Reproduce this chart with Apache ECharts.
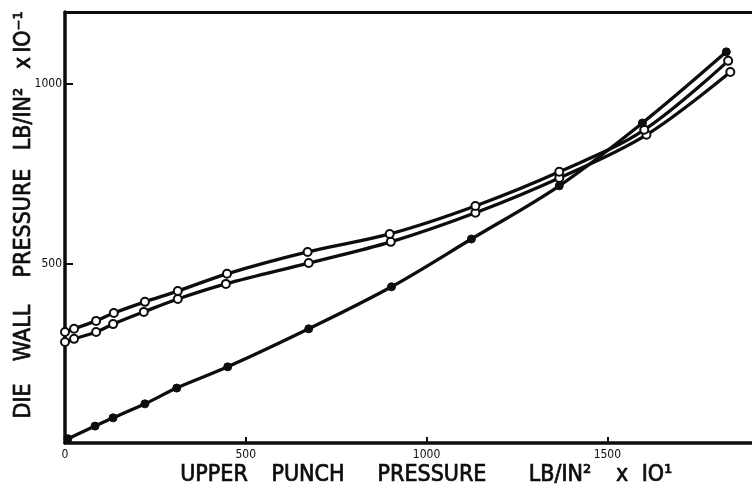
<!DOCTYPE html>
<html><head><meta charset="utf-8">
<script src="https://cdn.jsdelivr.net/npm/echarts@6/dist/echarts.min.js"></script>
<style>html,body{margin:0;padding:0;background:#fff}#c{width:752px;height:490px}</style>
</head><body><div id="c"></div>
<script>
const FONT = "'Liberation Sans Narrow','DejaVu Sans Condensed','Liberation Sans',sans-serif";
const INK = '#0d0d0d';

// Upper punch pressure (x) against die wall pressure (y), LB/IN² x 10⁻¹
const solidX  = [8, 83, 133, 221, 309, 450, 674, 903, 1124, 1367, 1597, 1829];
const solidY  = [12, 47, 70, 109, 153, 212, 318, 435, 568, 716, 891, 1089];
const upperX  = [0, 25, 86, 135, 221, 312, 448, 671, 898, 1135, 1367, 1602, 1834];
const upperY  = [309, 318, 340, 362, 393, 423, 471, 532, 582, 660, 755, 872, 1064];
const middleX = [0, 25, 86, 133, 218, 312, 445, 674, 901, 1135, 1367, 1608, 1840];
const middleY = [281, 290, 309, 331, 365, 401, 443, 501, 560, 641, 738, 858, 1033];

const xTickValues = [0, 500, 1000, 1500];
const yTickValues = [500, 1000];

const zip = (xs, ys) => xs.map((x, i) => [x, ys[i]]);
const plain = v => String(v);

function curve(xs, ys, filled) {
  return {
    type: 'line',
    data: zip(xs, ys),
    smooth: 0.35,
    symbol: 'circle',
    symbolSize: 8,
    showSymbol: true,
    lineStyle: { color: INK, width: 3.3 },
    itemStyle: filled
      ? { color: INK, borderColor: INK, borderWidth: 1 }
      : { color: '#fff', borderColor: INK, borderWidth: 2 },
    emphasis: { disabled: true },
    animation: false,
    z: 3
  };
}

const chart = echarts.init(document.getElementById('c'), null, { renderer: 'canvas' });

const word = (text, x, y, rotate) => ({
  type: 'text',
  x: x, y: y,
  rotation: rotate ? Math.PI / 2 : 0,
  style: {
    text: text,
    font: '23px ' + FONT,
    fill: INK,
    stroke: INK,
    lineWidth: 0.7,
    align: 'center',
    verticalAlign: 'middle'
  }
});

chart.setOption({
  backgroundColor: '#fff',
  animation: false,
  grid: { left: 65, top: 12, width: 688, height: 431 },
  xAxis: [{
    type: 'value', min: 0, max: 1900, interval: 500,
    axisLine: { show: true, lineStyle: { color: INK, width: 3.5 } },
    axisTick: { show: true, inside: true, length: 6, customValues: [500, 1000, 1500], lineStyle: { color: INK, width: 2 } },
    axisLabel: { customValues: xTickValues, formatter: plain, margin: 6, fontSize: 12, color: INK, fontFamily: FONT },
    splitLine: { show: false }
  }, {
    type: 'value', position: 'top', min: 0, max: 1900,
    axisLine: { show: true, onZero: false, lineStyle: { color: INK, width: 3 } },
    axisTick: { show: false }, axisLabel: { show: false }, splitLine: { show: false }
  }],
  yAxis: {
    type: 'value', min: 0, max: 1200, interval: 500,
    axisLine: { show: true, lineStyle: { color: INK, width: 3.5 } },
    axisTick: { show: true, inside: true, length: 8, customValues: yTickValues, lineStyle: { color: INK, width: 2 } },
    axisLabel: { customValues: yTickValues, formatter: plain, margin: 3, fontSize: 12, color: INK, fontFamily: FONT },
    splitLine: { show: false }
  },
  series: [
    curve(middleX, middleY, false),
    curve(upperX, upperY, false),
    curve(solidX, solidY, true)
  ],
  graphic: [
    word('UPPER', 214, 475),
    word('PUNCH', 308, 475),
    word('PRESSURE', 432, 475),
    word('LB/IN²', 560, 475),
    word('x', 622, 475),
    word('IO¹', 657, 475),
    word('DIE', 24, 401, true),
    word('WALL', 24, 333, true),
    word('PRESSURE', 24, 223, true),
    word('LB/IN²', 24, 119, true),
    word('x', 24, 63, true),
    word('IO⁻¹', 24, 32, true)
  ]
});
</script>
</body></html>
